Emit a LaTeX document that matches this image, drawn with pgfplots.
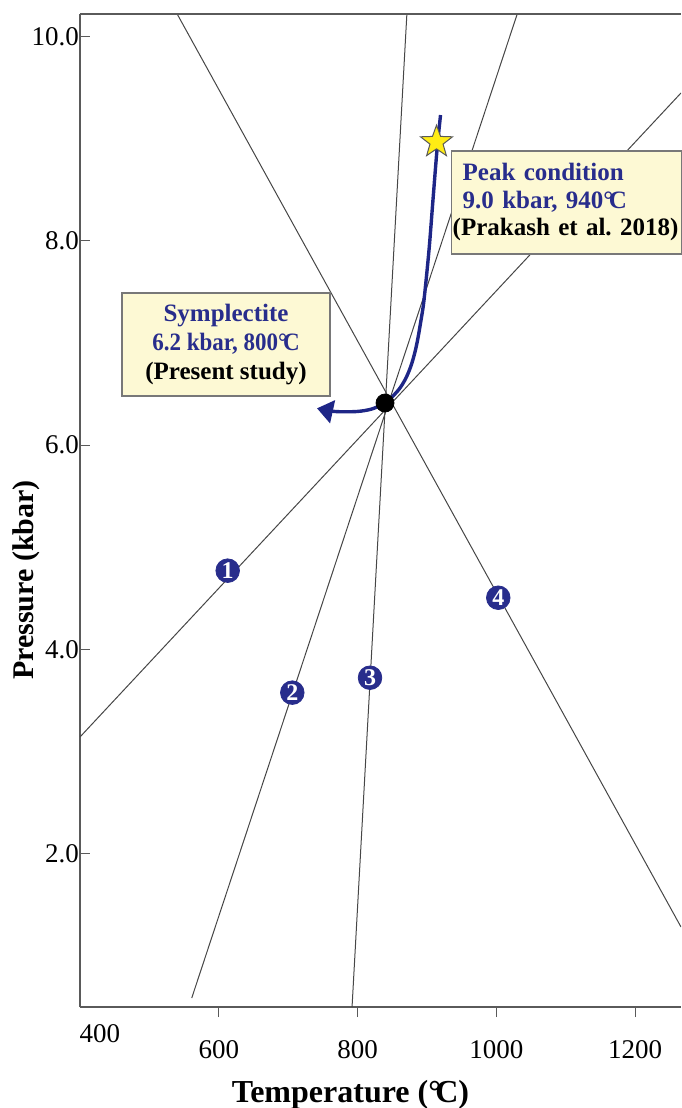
\documentclass[border=0pt]{standalone}
\usepackage{fontspec}
\setmainfont{Liberation Serif}
\usepackage{pgfplots}
\pgfplotsset{compat=1.18}
\usetikzlibrary{arrows.meta}
\definecolor{navy}{RGB}{40,45,140}
\definecolor{curveblue}{RGB}{30,38,135}
\definecolor{boxfill}{RGB}{253,249,212}
\definecolor{boxline}{RGB}{120,120,120}
\definecolor{starfill}{RGB}{255,236,20}
\definecolor{lgray}{RGB}{70,70,70}
\definecolor{agray}{RGB}{90,90,90}

\pgfdeclareplotmark{fstar}{%
  \pgfpathmoveto{\pgfpointpolar{90}{\pgfplotmarksize}}%
  \pgfpathlineto{\pgfpointpolar{126}{0.41\pgfplotmarksize}}%
  \pgfpathlineto{\pgfpointpolar{162}{\pgfplotmarksize}}%
  \pgfpathlineto{\pgfpointpolar{198}{0.41\pgfplotmarksize}}%
  \pgfpathlineto{\pgfpointpolar{234}{\pgfplotmarksize}}%
  \pgfpathlineto{\pgfpointpolar{270}{0.41\pgfplotmarksize}}%
  \pgfpathlineto{\pgfpointpolar{306}{\pgfplotmarksize}}%
  \pgfpathlineto{\pgfpointpolar{342}{0.41\pgfplotmarksize}}%
  \pgfpathlineto{\pgfpointpolar{18}{\pgfplotmarksize}}%
  \pgfpathlineto{\pgfpointpolar{54}{0.41\pgfplotmarksize}}%
  \pgfpathclose
  \pgfusepathqfillstroke}

\newcommand{\degC}{°\kern-0.18em C}

\begin{document}
\begin{tikzpicture}
\begin{axis}[
  name=ax, at={(0,0)}, anchor=south west,
  scale only axis, width=300.5pt, height=496.5pt,
  xmin=400, xmax=1266, ymin=0.5, ymax=10.22,
  axis lines*=left,
  axis line style={agray, line width=0.6pt},
  tick align=inside,
  tick style={agray, line width=0.5pt},
  major tick length=5pt,
  x tick style={yshift=-5pt},
  xtick={600,800,1000,1200},
  xticklabels={600,800,1000,1200},
  extra x ticks={400},
  extra x tick labels={400},
  extra x tick style={major tick length=0pt, xticklabel style={xshift=10pt, yshift=8pt}},
  ytick={2,4,6,8,10},
  yticklabels={2.0,4.0,6.0,8.0,10.0},
  xticklabel style={font=\fontsize{13.5}{14}\selectfont, yshift=-13pt},
  yticklabel style={font=\fontsize{13.5}{14}\selectfont, xshift=3pt},
  xlabel={Temperature (\degC)},
  ylabel={Pressure (kbar)},
  xlabel style={font=\bfseries\fontsize{16}{17}\selectfont, at={(ticklabel cs:0.45)}, yshift=-4pt},
  ylabel style={font=\bfseries\fontsize{15}{16}\selectfont, at={(ticklabel cs:0.43,-11pt)}},
  clip=true,
]
% reaction lines
\addplot[lgray, line width=0.5pt] coordinates {(400,3.143) (1266,9.447)};
\addplot[lgray, line width=0.5pt] coordinates {(561,0.588) (1030,10.22)};
\addplot[lgray, line width=0.5pt] coordinates {(792,0.5) (871,10.22)};
\addplot[lgray, line width=0.5pt] coordinates {(540,10.22) (1266,1.283)};
% P-T path
\addplot[curveblue, line width=1.7pt, smooth, tension=0.5, -{Triangle[length=8pt,width=11.5pt]}] coordinates {
 (919.5,9.231) (914.4,8.889) (908.6,8.399) (902.9,7.910) (895.7,7.421) (891.4,7.225)
 (887.0,7.049) (882.7,6.912) (876.9,6.775) (869.7,6.657) (861.1,6.559) (851.0,6.481)
 (839.5,6.412) (820.7,6.354) (799.1,6.329) (767.4,6.329) (741.5,6.360)};
% invariant point
\addplot[only marks, mark=*, mark size=4.5pt, mark options={fill=black, draw=black}] coordinates {(839.5,6.412)};
% peak star
\addplot[only marks, mark=fstar, mark size=8.4pt, mark options={fill=starfill, draw=black!65, line width=0.5pt}] coordinates {(913.7,8.967)};
% numbered reactions
\addplot[only marks, mark=*, mark size=5.9pt, mark options={fill=navy, draw=navy},
  point meta=explicit symbolic, nodes near coords,
  nodes near coords style={anchor=center, text=white, inner sep=0pt, font=\bfseries\fontsize{12}{12}\selectfont}]
  coordinates {(612.8,4.771)[1] (705.9,3.577)[2] (817.9,3.723)[3] (1002.7,4.506)[4]};
\coordinate (symp) at (axis cs:610.4,6.985);
\coordinate (peakw) at (axis cs:934.6,8.375);
\end{axis}
\draw[agray, line width=0.6pt] (ax.north west) -- (ax.north east);
\node[draw=boxline, fill=boxfill, line width=0.7pt, minimum width=104pt, minimum height=51.5pt,
  align=center, inner sep=2pt, font=\bfseries\fontsize{12.5}{14.5}\selectfont] at (symp)
  {\textcolor{navy}{Symplectite}\\\textcolor{navy}{\scalebox{0.92}[1]{6.2 kbar, 800\degC}}\\(Present study)};
\node[draw=boxline, fill=boxfill, line width=0.7pt, anchor=west, minimum height=51.5pt,
  text width=104pt, align=left, inner xsep=5.5pt, inner ysep=2pt,
  font=\bfseries\fontsize{12.5}{13.75}\selectfont] at (peakw)
  {\textcolor{navy}{Peak condition}\\\textcolor{navy}{9.0 kbar, 940\degC}\\\mbox{\hspace*{-5pt}(Prakash et al.\ 2018)}};
\pgfresetboundingbox
\path ([shift={(-40pt,-50.5pt)}]ax.south west) rectangle ([yshift=7pt]ax.north east);
\end{tikzpicture}
\end{document}
